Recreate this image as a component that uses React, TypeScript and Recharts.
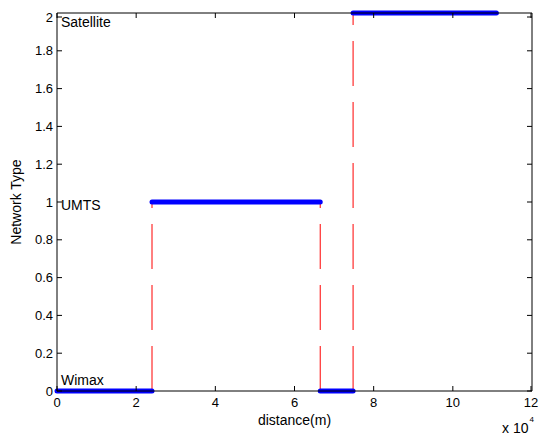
import { Line, LineChart, ReferenceDot, XAxis, YAxis } from 'recharts';

// distance in units of 1e4 m, network level 0 = Wimax, 1 = UMTS, 2 = Satellite
const xTicks = [0, 2, 4, 6, 8, 10, 12];
const yTicks = [0, 0.2, 0.4, 0.6, 0.8, 1, 1.2, 1.4, 1.6, 1.8, 2];
const networks = ['Wimax', 'UMTS', 'Satellite'];
const segStart = [0, 2.4, 6.65, 7.48];
const segEnd = [2.4, 6.65, 7.48, 11.1];
const segLevel = [0, 1, 0, 2];
const labelX = 0.1;
const labelLevel = [0.06, 0.985, 1.95];

const FONT = '"Liberation Sans", Arial, sans-serif';

const segments = segStart.map((s, i) => [
  { x: s, y: segLevel[i] },
  { x: segEnd[i], y: segLevel[i] },
]);
const switches = segStart.slice(1).map((s, i) => [
  { x: s, y: Math.min(segLevel[i], segLevel[i + 1]) },
  { x: s, y: Math.max(segLevel[i], segLevel[i + 1]) },
]);

const BottomTick = (p: any) => (
  <g>
    <line x1={p.x} x2={p.x} y1={p.y} y2={p.y - 5} stroke="#000" />
    <text x={p.x} y={p.y + 16} textAnchor="middle" fontSize={13} fontFamily={FONT} fill="#000">
      {p.payload.value}
    </text>
  </g>
);
const LeftTick = (p: any) => (
  <g>
    <line x1={p.x} x2={p.x + 5} y1={p.y} y2={p.y} stroke="#000" />
    <text x={p.x - 4} y={p.y + 4.5} textAnchor="end" fontSize={13} fontFamily={FONT} fill="#000">
      {p.payload.value}
    </text>
  </g>
);
const TopTick = (p: any) => <line x1={p.x} x2={p.x} y1={p.y} y2={p.y + 5} stroke="#000" />;
const RightTick = (p: any) => <line x1={p.x} x2={p.x - 5} y1={p.y} y2={p.y} stroke="#000" />;

const XLabel = (p: any) => {
  const vb = p.viewBox;
  return (
    <g fontFamily={FONT} fill="#000">
      <text x={vb.x + vb.width / 2} y={vb.y + 34} textAnchor="middle" fontSize={14}>distance(m)</text>
      <text x={494} y={vb.y + 42} fontSize={14}>
        x 10<tspan dx={1} dy={-11} fontSize={8}>4</tspan>
      </text>
    </g>
  );
};
const YLabel = (p: any) => {
  const vb = p.viewBox;
  const cx = 13;
  const cy = vb.y + vb.height / 2;
  return (
    <text x={cx} y={cy} transform={`rotate(-90 ${cx} ${cy})`} textAnchor="middle" fontSize={14} fontFamily={FONT} fill="#000">
      Network Type
    </text>
  );
};

export default function App() {
  return (
    <div style={{ position: 'absolute', left: 8, top: 8 }}>
      <LineChart width={531} height={428} margin={{ top: 4, right: 6, bottom: 0, left: 0 }}>
        <XAxis type="number" dataKey="x" domain={[0, 12]} ticks={xTicks} height={45} tickSize={0} tickMargin={0}
          tick={BottomTick} stroke="#000" label={XLabel} />
        <XAxis xAxisId="t" orientation="top" type="number" dataKey="x" domain={[0, 12]} ticks={xTicks} height={1}
          tickSize={0} tickMargin={0} tick={TopTick} stroke="#000" />
        <YAxis type="number" domain={[0, 2]} ticks={yTicks} width={49} tickSize={0} tickMargin={0}
          tick={LeftTick} stroke="#000" label={YLabel} />
        <YAxis yAxisId="r" orientation="right" type="number" domain={[0, 2]} ticks={yTicks} width={1}
          tickSize={0} tickMargin={0} tick={RightTick} stroke="#000" />
        {/* invisible series so the frame axes (top/right) get drawn */}
        <Line xAxisId="t" yAxisId="r" data={segments[0]} dataKey="y" stroke="none" dot={false}
          isAnimationActive={false} />
        {switches.map((d, i) => (
          <Line key={`s${i}`} data={d} dataKey="y" stroke="#ff0000" strokeWidth={1} strokeDasharray="45 16"
            dot={false} isAnimationActive={false} />
        ))}
        {segments.map((d, i) => (
          <Line key={`b${i}`} data={d} dataKey="y" stroke="#0000ff" strokeWidth={5} strokeLinecap="round"
            dot={false} isAnimationActive={false} />
        ))}
        {networks.map((n, i) => (
          <ReferenceDot key={n} x={labelX} y={labelLevel[i]} r={0}
            shape={(p: any) => (
              <text x={p.cx} y={p.cy + 5} fontSize={14} fontFamily={FONT} fill="#000">{n}</text>
            )} />
        ))}
      </LineChart>
    </div>
  );
}
